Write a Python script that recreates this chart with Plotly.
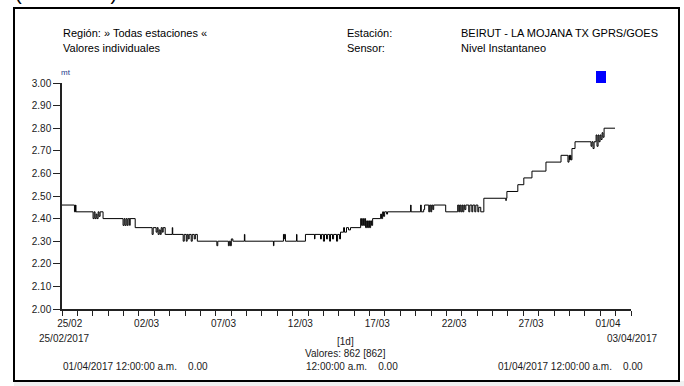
import pandas as pd
import plotly.graph_objects as go

# ---- data ----
start_date = "2017-02-25"
end_date = "2017-04-03"
# time offsets (days since 25/02/2017 00:00) where the level changes
day_offsets = [
    0.00, 0.81, 0.88, 0.91, 2.02, 2.09, 2.15, 2.22, 2.28, 2.35, 2.41, 2.48, 2.67,
    3.97, 4.04, 4.10, 4.17, 4.24, 4.30, 4.40, 4.43, 4.76,
    5.86, 5.93, 6.12, 6.19, 6.25, 6.32, 6.39, 6.45, 6.52, 6.58, 6.71, 7.17, 7.20,
    7.88, 7.95, 8.08, 8.14, 8.21, 8.27, 8.40, 8.47, 8.60, 8.67, 8.80,
    10.07, 10.13, 10.82, 10.88, 10.95, 11.01, 11.11, 11.86, 11.89,
    13.75, 13.78, 14.40, 14.43, 14.46, 14.53, 15.25, 15.28, 15.83,
    16.42, 16.45, 16.81, 16.87, 17.00, 17.07, 17.20, 17.27, 17.40, 17.46, 17.59, 17.66,
    17.85, 17.92, 18.05, 18.11, 18.31, 18.37, 18.50, 18.63, 18.76,
    19.42, 19.48, 19.55, 19.61, 19.68, 19.74, 19.81, 19.87, 19.94, 20.00, 20.07, 20.13, 20.20,
    20.72, 20.78, 20.85, 20.91, 20.98, 21.11, 21.17,
    22.67, 22.70, 23.32, 23.36, 23.52, 23.58, 23.85, 23.91, 23.98, 24.04, 24.11, 24.17, 24.95,
    25.73, 25.80, 25.86, 25.93, 26.00, 26.06, 26.13, 26.19, 26.26, 26.45, 26.52, 26.65, 26.71,
    26.84, 26.91, 27.04, 27.10, 27.23, 27.43,
    28.86, 28.89, 28.93, 29.64, 30.03, 30.56, 31.47, 32.45,
    32.90, 32.97, 33.00, 33.06, 33.10, 33.16, 33.36,
    34.40, 34.46, 34.53, 34.60, 34.73, 34.79, 34.86, 34.92, 34.99, 35.05, 35.12, 35.18, 35.25, 35.96,
]
level_mt = [
    2.46, 2.43, 2.46, 2.43, 2.40, 2.43, 2.40, 2.42, 2.40, 2.43, 2.41, 2.43, 2.40,
    2.37, 2.40, 2.37, 2.40, 2.37, 2.40, 2.37, 2.40, 2.36,
    2.33, 2.36, 2.34, 2.36, 2.33, 2.35, 2.33, 2.36, 2.34, 2.36, 2.33, 2.36, 2.33,
    2.30, 2.33, 2.30, 2.33, 2.31, 2.33, 2.30, 2.33, 2.31, 2.33, 2.30,
    2.28, 2.30, 2.28, 2.30, 2.28, 2.31, 2.30, 2.33, 2.30,
    2.28, 2.30, 2.33, 2.31, 2.33, 2.30, 2.33, 2.30, 2.33,
    2.31, 2.33, 2.31, 2.33, 2.30, 2.33, 2.31, 2.33, 2.30, 2.33, 2.31, 2.33,
    2.30, 2.33, 2.31, 2.34, 2.36, 2.34, 2.36, 2.35, 2.36,
    2.40, 2.37, 2.40, 2.37, 2.40, 2.36, 2.39, 2.36, 2.39, 2.36, 2.39, 2.37, 2.40,
    2.42, 2.40, 2.43, 2.41, 2.43, 2.42, 2.43,
    2.46, 2.43, 2.46, 2.43, 2.44, 2.46, 2.43, 2.46, 2.43, 2.46, 2.44, 2.46, 2.43,
    2.46, 2.43, 2.46, 2.43, 2.46, 2.43, 2.46, 2.44, 2.46, 2.43, 2.46, 2.43, 2.46,
    2.43, 2.46, 2.43, 2.45, 2.43, 2.49,
    2.48, 2.49, 2.52, 2.55, 2.58, 2.61, 2.65, 2.68,
    2.65, 2.68, 2.66, 2.68, 2.66, 2.71, 2.74,
    2.72, 2.74, 2.71, 2.74, 2.77, 2.72, 2.77, 2.74, 2.77, 2.75, 2.78, 2.76, 2.80, 2.80,
]
x_label_dates = ["2017-02-25", "2017-03-02", "2017-03-07", "2017-03-12",
                 "2017-03-17", "2017-03-22", "2017-03-27", "2017-04-01"]
x_label_text = ["25/02", "02/03", "07/03", "12/03", "17/03", "22/03", "27/03", "01/04"]
y_ticks = [2.0, 2.1, 2.2, 2.3, 2.4, 2.5, 2.6, 2.7, 2.8, 2.9, 3.0]

times = pd.Timestamp(start_date) + pd.to_timedelta(day_offsets, unit="D")
label_pos = [pd.Timestamp(d) + pd.Timedelta(hours=12) for d in x_label_dates]

FONT = "Liberation Sans, Arial, sans-serif"
TXT = "#1a1a1a"

fig = go.Figure()
fig.add_trace(go.Scatter(
    x=times, y=level_mt, mode="lines", line=dict(color="black", width=1, shape="hv"),
    showlegend=False, hoverinfo="skip",
))

fig.update_layout(
    width=684, height=386,
    margin=dict(l=62, r=53, t=83, b=77, autoexpand=False),
    paper_bgcolor="white", plot_bgcolor="white",
    font=dict(family=FONT, size=10, color=TXT),
    xaxis=dict(
        type="date", range=[start_date, end_date],
        tickvals=label_pos, ticktext=x_label_text,
        ticks="outside", ticklen=4, tickcolor="rgba(0,0,0,0)",
        showgrid=False, zeroline=False,
        showline=True, linecolor="#222", linewidth=1.5,
        tickfont=dict(size=10, color=TXT, family=FONT),
        minor=dict(ticks="outside", ticklen=5, tickwidth=1, tickcolor="#222",
                   tick0=start_date, dtick=86400000, showgrid=False),
    ),
    yaxis=dict(
        range=[2.0, 3.0], tickvals=y_ticks, tickformat=".2f",
        ticks="outside", ticklen=7, tickcolor="#222", tickwidth=1,
        showgrid=False, zeroline=False,
        showline=True, linecolor="#222", linewidth=1.5,
        tickfont=dict(size=10, color=TXT, family=FONT),
    ),
)

def px_x(p):
    return (p - 62) / 569.0

def px_y(p):
    return (309 - p) / 226.0

def note(text, x, y, xanchor="left", size=11, color="black"):
    fig.add_annotation(text=text, xref="paper", yref="paper", x=px_x(x), y=px_y(y),
                       xanchor=xanchor, yanchor="middle", showarrow=False,
                       font=dict(size=size, color=color, family=FONT))

sp = "\u00a0"
note("Región: » Todas estaciones «", 61, 33)
note("Valores individuales", 61, 48)
note("Estación:", 345, 33)
note("Sensor:", 345, 48)
note("BEIRUT - LA MOJANA TX GPRS/GOES", 459, 33)
note("Nivel Instantaneo", 459, 48)
note("mt", 59, 72, size=8, color="#1d3a8a")

note("25/02/2017", 37, 338, size=10, color=TXT)
note("03/04/2017", 659, 338, xanchor="right", size=10, color=TXT)
note("[1d]", 345, 341, xanchor="center", size=10, color=TXT)
note("Valores: 862 [862]", 345, 353, xanchor="center", size=10, color=TXT)
note("01/04/2017 12:00:00 a.m." + sp * 4 + "0.00", 61, 366, size=10, color=TXT)
note("12:00:00 a.m." + sp * 4 + "0.00", 304, 366, size=10, color=TXT)
note("01/04/2017 12:00:00 a.m." + sp * 4 + "0.00", 496, 366, size=10, color=TXT)

# cut-off caption parentheses at the very top
fig.add_annotation(text="(" + sp * 16 + ")", xref="paper", yref="paper",
                   x=px_x(13), y=px_y(6), xanchor="left", yanchor="bottom",
                   showarrow=False, font=dict(size=20, color="black", family=FONT))

# frame, bottom band and legend marker
fig.add_shape(type="rect", xref="paper", yref="paper",
              x0=px_x(14), x1=px_x(684), y0=px_y(381), y1=px_y(390),
              fillcolor="#f0f0f0", line=dict(width=0), layer="below")
fig.add_shape(type="rect", xref="paper", yref="paper",
              x0=px_x(14), x1=px_x(679), y0=px_y(381), y1=px_y(8),
              fillcolor="rgba(0,0,0,0)", line=dict(color="black", width=2))
fig.add_shape(type="rect", xref="paper", yref="paper",
              x0=px_x(596), x1=px_x(606), y0=px_y(83), y1=px_y(71),
              fillcolor="#0000ff", line=dict(width=0))

fig.write_html("out.html", config={"displayModeBar": False},
               post_script="document.body.style.margin='0px';")
